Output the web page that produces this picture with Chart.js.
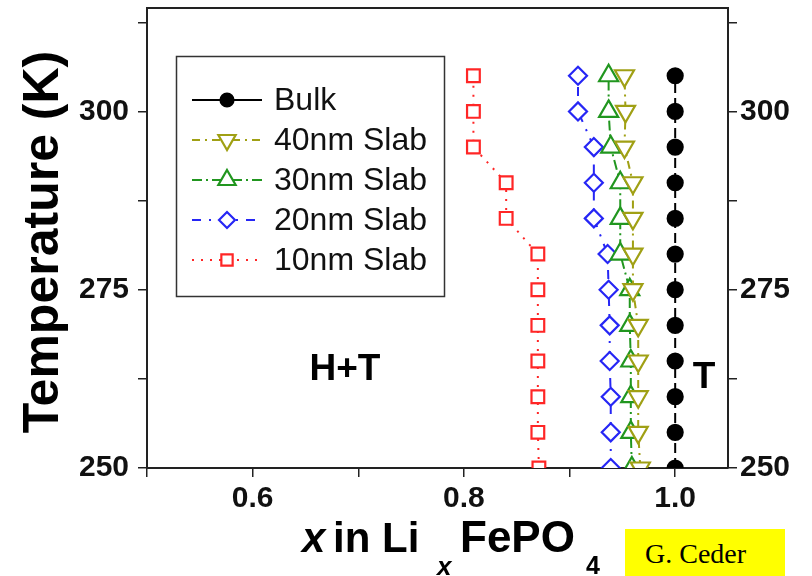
<!DOCTYPE html>
<html>
<head>
<meta charset="utf-8">
<script src="https://cdn.jsdelivr.net/npm/chart.js@4.4.0/dist/chart.umd.min.js"></script>
<style>
  body { margin: 0; background: #fff; }
  #wrap { position: relative; width: 812px; height: 576px; }
  #tag {
    position: absolute; left: 625px; top: 529px; width: 140px; height: 47px;
    padding-left: 20px; background: #ffff00; color: #000;
    font-family: "Liberation Serif", "Times New Roman", serif; font-size: 28px; line-height: 50px;
  }
</style>
</head>
<body>
<div id="wrap">
  <canvas id="chart" width="812" height="576"></canvas>
  <div id="tag">G. Ceder</div>
</div>
<script>
// temperatures (K) and x in LixFePO4 for each series
const temps = [250, 255, 260, 265, 270, 275, 280, 285, 290, 295, 300, 305];
const bulk = [1.0, 1.0, 1.0, 1.0, 1.0, 1.0, 1.0, 1.0, 1.0, 1.0, 1.0, 1.0];
const slab40 = [0.967, 0.965, 0.965, 0.965, 0.965, 0.96, 0.96, 0.96, 0.96, 0.952, 0.953, 0.952];
const slab30 = [0.959, 0.958, 0.958, 0.958, 0.957, 0.957, 0.948, 0.948, 0.948, 0.939, 0.937, 0.937];
const slab20 = [0.939, 0.939, 0.939, 0.938, 0.938, 0.937, 0.936, 0.923, 0.923, 0.923, 0.908, 0.908];
const slab10 = [0.871, 0.87, 0.87, 0.87, 0.87, 0.87, 0.87, 0.84, 0.84, 0.809, 0.809, 0.809];

const seriesNames = ['Bulk', '40nm Slab', '30nm Slab', '20nm Slab', '10nm Slab'];
const seriesValues = [bulk, slab40, slab30, slab20, slab10];

const xTickLabels = ['0.6', '0.8', '1.0'];
const yTickLabels = ['250', '275', '300'];

const regionText = ['H+T', 'T'];
const regionX = [0.6874, 1.0273];
const regionY = [263.7, 262.6];

// styling
const SANS = '"Liberation Sans", Arial, Helvetica, sans-serif';
const colors = ['#000000', '#a0a014', '#21961f', '#2626f5', '#ff2626'];
const dashes = [[10, 5], [8, 5, 2, 5], [10, 4, 2, 4], [9, 8, 2, 8], [2, 7]];
const legendDashes = [[], [8, 5, 2, 5], [10, 4, 2, 4], [9, 8, 2, 8], [2, 7]];
const markers = ['circle', 'triangle', 'triangle', 'rectRot', 'rect'];
const markerRot = [0, 180, 0, 0, 0];
const markerSize = [7.5, 11, 11, 9, 9];
const AXIS = '#222';

const datasets = seriesNames.map((name, i) => ({
  label: name,
  data: temps.map((t, j) => ({ x: seriesValues[i][j], y: t })),
  showLine: true,
  borderColor: colors[i],
  borderWidth: 2,
  borderDash: dashes[i],
  pointStyle: markers[i],
  pointRotation: markerRot[i],
  pointRadius: markerSize[i],
  pointBorderWidth: 2.2,
  pointBorderColor: colors[i],
  pointBackgroundColor: i === 0 ? '#000' : '#fff',
  legendDash: legendDashes[i],
}));

function xLabel(v) {
  const s = (Math.round(v * 10) / 10).toFixed(1);
  return xTickLabels.includes(s) ? s : '';
}
function yLabel(v) {
  const s = String(Math.round(v * 10) / 10);
  return yTickLabels.includes(s) ? s : '';
}

// pin the axis boxes so the plot area sits where the reference has it
function pin(prop, size) {
  return (s) => {
    s[prop] = size;
    s.paddingTop = 0; s.paddingBottom = 0; s.paddingLeft = 0; s.paddingRight = 0;
  };
}

const tickFont = { family: SANS, size: 30, weight: 'bold' };
const tickGrid = { drawOnChartArea: false, drawTicks: true, tickLength: 9, color: AXIS, lineWidth: 1.5 };
const border = { display: true, color: AXIS, width: 2 };

const overlay = {
  id: 'overlay',
  afterDraw(chart) {
    const ctx = chart.ctx;
    const xs = chart.scales.x;
    const ys = chart.scales.y;
    ctx.save();

    // legend box
    const box = { left: 176, top: 56, w: 268, h: 240 };
    ctx.strokeStyle = '#333';
    ctx.lineWidth = 1.5;
    ctx.setLineDash([]);
    ctx.strokeRect(box.left + 0.5, box.top + 0.5, box.w, box.h);
    chart.data.datasets.forEach((ds, i) => {
      const yy = box.top + 44 + i * 40;
      ctx.save();
      ctx.strokeStyle = ds.borderColor;
      ctx.lineWidth = ds.borderWidth;
      ctx.setLineDash(ds.legendDash);
      ctx.beginPath();
      ctx.moveTo(192, yy);
      ctx.lineTo(262, yy);
      ctx.stroke();
      ctx.setLineDash([]);
      ctx.fillStyle = ds.pointBackgroundColor;
      ctx.strokeStyle = ds.pointBorderColor;
      ctx.lineWidth = ds.pointBorderWidth;
      Chart.helpers.drawPoint(ctx, {
        pointStyle: ds.pointStyle, rotation: ds.pointRotation,
        radius: ds.pointRadius - 1, borderWidth: ds.pointBorderWidth
      }, 227, yy);
      ctx.restore();
      ctx.fillStyle = '#111';
      ctx.font = '32px ' + SANS;
      ctx.textAlign = 'left';
      ctx.textBaseline = 'middle';
      ctx.fillText(ds.label, 274, yy + 1);
    });

    // phase labels
    ctx.fillStyle = '#000';
    ctx.font = 'bold 37px ' + SANS;
    ctx.textAlign = 'center';
    ctx.textBaseline = 'middle';
    regionText.forEach((t, i) => {
      ctx.fillText(t, xs.getPixelForValue(regionX[i]), ys.getPixelForValue(regionY[i]));
    });

    // y title
    ctx.save();
    ctx.translate(58, 242);
    ctx.rotate(-Math.PI / 2);
    ctx.font = 'bold 50px ' + SANS;
    ctx.textBaseline = 'alphabetic';
    ctx.fillText('Temperature (K)', 0, 0);
    ctx.restore();

    // x title with subscripts
    ctx.textAlign = 'left';
    ctx.textBaseline = 'alphabetic';
    const parts = [
      { t: 'x', f: 'italic bold 42px ', x: 302, b: 552 },
      { t: 'in Li', f: 'bold 42px ', x: 333, b: 552 },
      { t: 'x', f: 'italic bold 26px ', x: 437, b: 575 },
      { t: 'FePO', f: 'bold 44px ', x: 460, b: 552 },
      { t: '4', f: 'bold 25px ', x: 586, b: 574 },
    ];
    parts.forEach((p) => {
      ctx.font = p.f + SANS;
      ctx.fillText(p.t, p.x, p.b);
    });

    ctx.restore();
  }
};

new Chart(document.getElementById('chart'), {
  type: 'scatter',
  data: { datasets },
  options: {
    responsive: false,
    animation: false,
    events: [],
    layout: { padding: 0, autoPadding: false },
    plugins: { legend: { display: false }, tooltip: { enabled: false } },
    scales: {
      x: {
        type: 'linear', position: 'bottom', min: 0.5, max: 1.05,
        afterFit: pin('height', 108),
        ticks: { stepSize: 0.1, includeBounds: false, autoSkip: false, maxRotation: 0, padding: 4, color: '#111', font: tickFont, callback: xLabel },
        grid: tickGrid, border,
      },
      xTop: {
        type: 'linear', position: 'top', min: 0.5, max: 1.05,
        afterFit: pin('height', 8),
        ticks: { display: false },
        grid: { display: false }, border,
      },
      y: {
        type: 'linear', position: 'left', min: 250, max: 314.5,
        afterFit: pin('width', 147),
        ticks: { stepSize: 12.5, includeBounds: false, autoSkip: false, padding: 9, color: '#111', font: tickFont, callback: yLabel },
        grid: tickGrid, border,
      },
      yRight: {
        type: 'linear', position: 'right', min: 250, max: 314.5,
        afterFit: pin('width', 84),
        ticks: { stepSize: 12.5, includeBounds: false, autoSkip: false, padding: 3, color: '#111', font: tickFont, callback: yLabel },
        grid: tickGrid, border,
      },
    },
  },
  plugins: [overlay],
});
</script>
</body>
</html>
